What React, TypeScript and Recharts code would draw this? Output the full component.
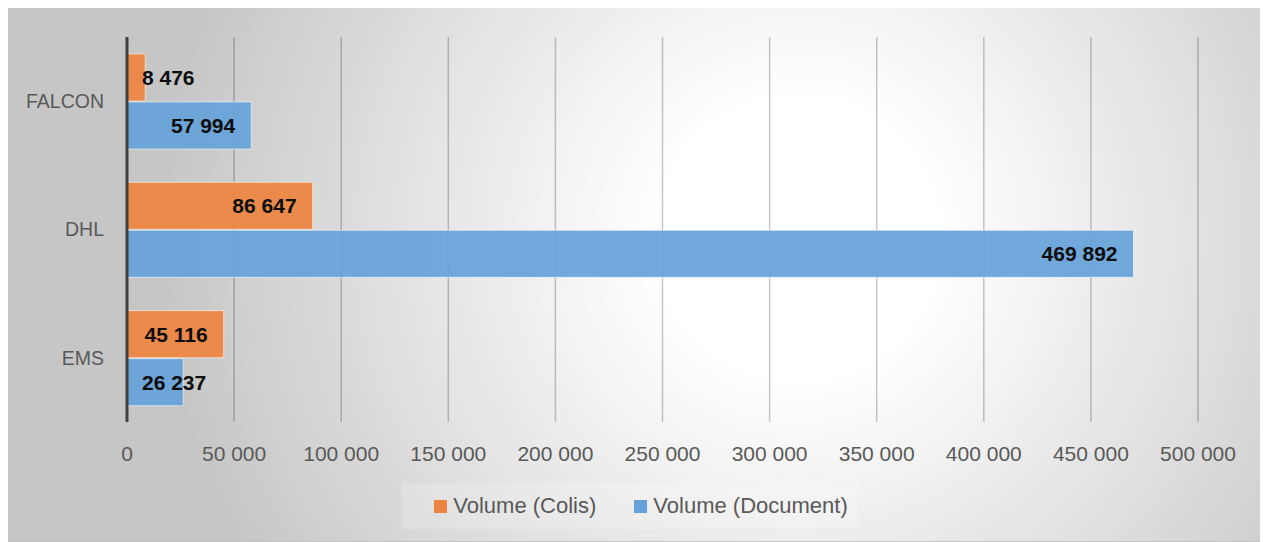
import React from 'react';
import { BarChart, Bar, XAxis, YAxis, CartesianGrid, Legend, LabelList } from 'recharts';

const categories = ['FALCON', 'DHL', 'EMS'];
const colisValues = [8476, 86647, 45116];
const documentValues = [57994, 469892, 26237];
const xTicks = [0, 50000, 100000, 150000, 200000, 250000, 300000, 350000, 400000, 450000, 500000];

const seriesNames = { colis: 'Volume (Colis)', document: 'Volume (Document)' };
const colors = { colis: '#EE8441', document: '#66A2D9' };

const data = categories.map((name, i) => ({
  name,
  colis: colisValues[i],
  document: documentValues[i],
}));

const fmt = (v: number) => String(v).replace(/\B(?=(\d{3})+(?!\d))/g, ' ');

const LABEL_FONT = 21;
const estWidth = (s: string) =>
  s.split('').reduce((acc, c) => acc + (c === ' ' ? 0.278 : 0.556) * LABEL_FONT, 0);

const InsideEndLabel = (props: any) => {
  const { x, y, width, height, value } = props;
  const text = fmt(Number(value));
  const w = estWidth(text);
  const endX = Number(x) + Number(width) - 16;
  const minStart = Number(x) + 15;
  const cy = Number(y) + Number(height) / 2;
  let tx = endX;
  let anchor: 'end' | 'start' = 'end';
  if (endX - w < minStart) {
    tx = minStart;
    anchor = 'start';
  }
  return (
    <text
      x={tx}
      y={cy}
      textAnchor={anchor}
      dominantBaseline="central"
      fontFamily="'Liberation Sans', Arial, sans-serif"
      fontWeight="bold"
      fontSize={LABEL_FONT}
      fill="#0d0d0d"
    >
      {text}
    </text>
  );
};

const LegendContent = (props: any) => {
  const { payload } = props;
  return (
    <div
      style={{
        width: 456,
        height: 46,
        boxSizing: 'border-box',
        paddingLeft: 22,
        background: 'rgba(255,255,255,0.18)',
        display: 'flex',
        alignItems: 'center',
        justifyContent: 'center',
        gap: 38,
        fontFamily: "'Liberation Sans', Arial, sans-serif",
        fontSize: 22,
        color: '#595959',
      }}
    >
      {(payload || []).map((p: any) => (
        <div key={p.value} style={{ display: 'flex', alignItems: 'center' }}>
          <span
            style={{
              display: 'inline-block',
              width: 13,
              height: 13,
              background: p.color,
              marginRight: 6,
            }}
          />
          <span>{p.value}</span>
        </div>
      ))}
    </div>
  );
};

export default function App() {
  return (
    <div
      style={{
        position: 'relative',
        width: 1261,
        height: 535,
        marginLeft: -1,
        marginTop: -1,
        boxSizing: 'border-box',
        border: '1px solid #c2c2c2',
        borderRight: '1px solid #e6e6e6',
        background:
          'radial-gradient(circle 640px at 790px 230px, #ffffff 0%, #ffffff 22%, #c6c6c6 100%)',
      }}
    >
      <BarChart
        width={1259}
        height={533}
        data={data}
        layout="vertical"
        margin={{ top: 29, right: 69, left: 0, bottom: 12 }}
        barSize={47}
        barGap={1}
      >
        <CartesianGrid horizontal={false} stroke="rgba(0,0,0,0.22)" strokeWidth={1.5} />
        <XAxis
          type="number"
          domain={[0, 500000]}
          ticks={xTicks}
          tickFormatter={fmt}
          axisLine={false}
          tickLine={false}
          tickSize={0}
          tickMargin={24}
          height={61}
          interval={0}
          tick={{ fill: '#595959', fontSize: 21, fontFamily: "'Liberation Sans', Arial, sans-serif" }}
        />
        <YAxis
          type="category"
          dataKey="name"
          width={119}
          axisLine={{ stroke: '#404040', strokeWidth: 3 }}
          tickLine={false}
          tickSize={0}
          tickMargin={23}
          tick={{ fill: '#595959', fontSize: 19.5, fontFamily: "'Liberation Sans', Arial, sans-serif" }}
        />
        <Legend
          verticalAlign="bottom"
          align="center"
          content={<LegendContent />}
          wrapperStyle={{ left: 394, width: 456 }}
        />
        <Bar
          dataKey="colis"
          name={seriesNames.colis}
          fill={colors.colis}
          fillOpacity={0.93}
          stroke="rgba(255,255,255,0.55)"
          strokeWidth={1}
          isAnimationActive={false}
        >
          <LabelList dataKey="colis" content={<InsideEndLabel />} />
        </Bar>
        <Bar
          dataKey="document"
          name={seriesNames.document}
          fill={colors.document}
          fillOpacity={0.93}
          stroke="rgba(255,255,255,0.55)"
          strokeWidth={1}
          isAnimationActive={false}
        >
          <LabelList dataKey="document" content={<InsideEndLabel />} />
        </Bar>
      </BarChart>
    </div>
  );
}
